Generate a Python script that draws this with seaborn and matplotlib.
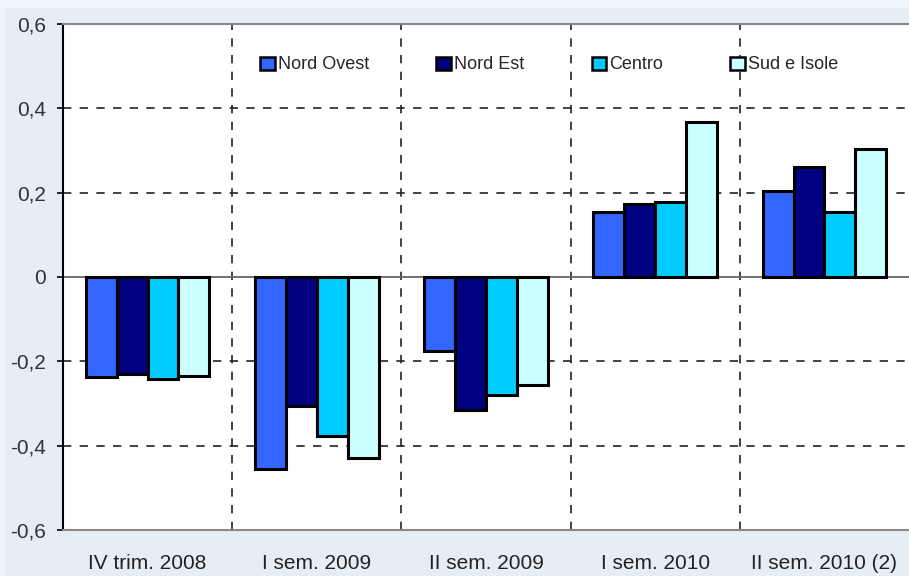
import pandas as pd
import seaborn as sns
import matplotlib.pyplot as plt
from matplotlib.patches import Rectangle

periods = ["IV trim. 2008", "I sem. 2009", "II sem. 2009", "I sem. 2010", "II sem. 2010 (2)"]
regions = ["Nord Ovest", "Nord Est", "Centro", "Sud e Isole"]
nord_ovest = [-0.237, -0.455, -0.175, 0.155, 0.205]
nord_est = [-0.231, -0.307, -0.315, 0.174, 0.261]
centro = [-0.241, -0.376, -0.280, 0.177, 0.155]
sud_isole = [-0.234, -0.430, -0.256, 0.367, 0.304]
yticks = [-0.6, -0.4, -0.2, 0, 0.2, 0.4, 0.6]
ytick_labels = ["-0,6", "-0,4", "-0,2", "0", "0,2", "0,4", "0,6"]
colors = ["#3366ff", "#000080", "#00ccff", "#ccffff"]

rows = []
for reg, vals in zip(regions, [nord_ovest, nord_est, centro, sud_isole]):
    for p, v in zip(periods, vals):
        rows.append({"periodo": p, "area": reg, "valore": v})
df = pd.DataFrame(rows)

sns.set_style("white")
plt.rcParams["font.family"] = ["Liberation Sans", "DejaVu Sans"]

fig = plt.figure(figsize=(9.09, 5.76), dpi=100, facecolor="#eef5fc")
fig.patches.append(Rectangle((5 / 909, 0), 1, 1 - 8 / 576, transform=fig.transFigure,
                             facecolor="#e6eef5", edgecolor="none", zorder=-5))
ax = fig.add_axes([63 / 909, 46 / 576, 1 - 63 / 909, 506 / 576])
ax.set_zorder(2)
ax.set_facecolor("white")

sns.barplot(data=df, x="periodo", y="valore", hue="area", order=periods, hue_order=regions,
            palette=colors, saturation=1, width=0.73, edgecolor="black", linewidth=2.2,
            ax=ax, zorder=3, errorbar=None)

# griglia tratteggiata
for y in [-0.4, -0.2, 0.2, 0.4]:
    ax.axhline(y, color="#222222", lw=1.2, ls=(0, (5, 5)), zorder=1)
for x in [0.5, 1.5, 2.5, 3.5]:
    ax.axvline(x, color="#222222", lw=1.2, ls=(0, (5, 5)), zorder=1)
ax.axhline(0, color="#666666", lw=1.3, zorder=2)

ax.set_xlim(-0.5, 4.5)
ax.set_ylim(-0.6, 0.6)
ax.set_yticks(yticks)
ax.set_yticklabels(ytick_labels)
ax.set_xlabel("")
ax.set_ylabel("")
ax.tick_params(axis="y", left=True, length=4.5, width=1.2, color="black", pad=8,
               labelsize=15, labelcolor="#333333")
ax.tick_params(axis="x", length=0, pad=17, labelsize=15, labelcolor="#222222")

ax.spines["left"].set_color("black")
ax.spines["left"].set_linewidth(1.5)
ax.spines["top"].set_color("#888888")
ax.spines["top"].set_linewidth(1.5)
ax.spines["bottom"].set_color("#888888")
ax.spines["bottom"].set_linewidth(1.5)
ax.spines["right"].set_visible(False)

leg = ax.legend(loc="center", bbox_to_anchor=(0.575, 0.919), ncol=4, frameon=False,
                fontsize=13, handlelength=0.8, handleheight=0.75, handletextpad=0.2,
                columnspacing=3.7)
for h in leg.legend_handles:
    h.set_linewidth(1.8)

fig.savefig("out.png", dpi=100, facecolor=fig.get_facecolor())
